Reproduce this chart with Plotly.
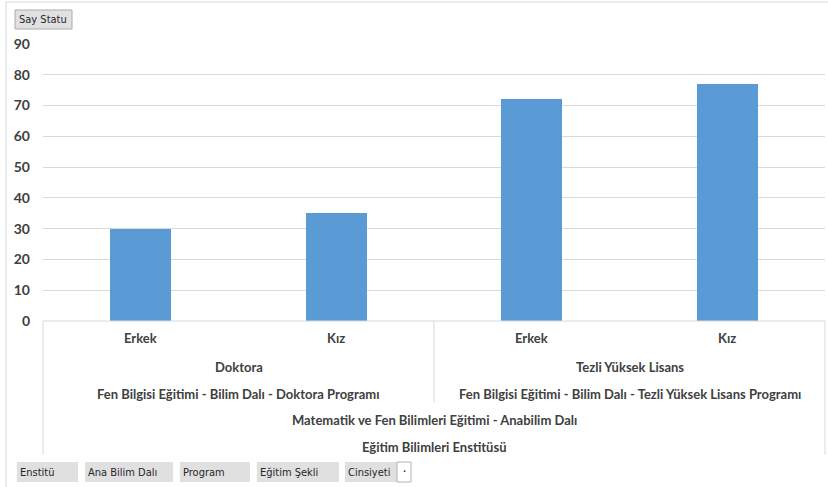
import plotly.graph_objects as go

genders = ["Erkek", "Kız", "Erkek", "Kız"]
values = [30, 35, 72, 77]
programs_short = ["Doktora", "Tezli Yüksek Lisans"]
programs_long = ["Fen Bilgisi Eğitimi - Bilim Dalı - Doktora Programı",
                 "Fen Bilgisi Eğitimi - Bilim Dalı - Tezli Yüksek Lisans Programı"]
department = "Matematik ve Fen Bilimleri Eğitimi - Anabilim Dalı"
institute = "Eğitim Bilimleri Enstitüsü"
value_button = "Say Statu"
field_buttons = ["Enstitü", "Ana Bilim Dalı", "Program", "Eğitim Şekli", "Cinsiyeti"]
y_ticks = [0, 10, 20, 30, 40, 50, 60, 70, 80, 90]

W, H = 828, 487
L, R, T, B = 43, 825, 44, 321

def px(x):
    return (x - L) / (R - L)

def py(y):
    return (B - y) / (B - T)

FONT = "Lato"
TXT = "#404040"
GRID = "#D9D9D9"

xs = list(range(len(values)))
fig = go.Figure(go.Bar(x=xs, y=values, width=0.31, marker_color="#5B9BD5",
                       marker_line_width=0, hoverinfo="y"))

shapes = []
ann = []

# outer chart border
shapes.append(dict(type="rect", xref="paper", yref="paper",
                   x0=px(6), x1=px(840), y0=py(500), y1=py(2),
                   line=dict(color="#D9D9D9", width=1), layer="below"))
# category axis box
for x0, y1 in [(L, 455), (434, 402), (R, 455)]:
    shapes.append(dict(type="line", xref="paper", yref="paper",
                       x0=px(x0), x1=px(x0), y0=py(B), y1=py(y1),
                       line=dict(color=GRID, width=1)))
shapes.append(dict(type="line", xref="paper", yref="paper",
                   x0=0, x1=1, y0=0, y1=0, line=dict(color=GRID, width=1)))

bold = dict(family=FONT, size=13, color=TXT, weight="bold")

def label(x, y, text):
    ann.append(dict(x=x, y=py(y), xref="x", yref="paper", text=text, showarrow=False,
                    font=bold, xanchor="center", yanchor="middle"))

for i, g in enumerate(genders):
    label(i, 338, g)
for j in range(2):
    label(2 * j + 0.5, 367, programs_short[j])
    label(2 * j + 0.5, 394, programs_long[j])
label(1.5, 420, department)
label(1.5, 447, institute)

btn_font = dict(family="DejaVu Sans Condensed", size=11, color="#262626")

# value field button
shapes.append(dict(type="rect", xref="paper", yref="paper",
                   x0=px(15), x1=px(72), y0=py(29), y1=py(10),
                   line=dict(color="#ABABAB", width=1), fillcolor="#E1E1E1"))
ann.append(dict(x=px(17), y=py(19.5), xref="paper", yref="paper",
                text=value_button, showarrow=False, font=btn_font,
                xanchor="left", yanchor="middle"))

bx = [(17, 78), (85, 173), (180, 250), (257, 339), (345, 397)]
for (x0, x1), lab in zip(bx, field_buttons):
    shapes.append(dict(type="rect", xref="paper", yref="paper",
                       x0=px(x0), x1=px(x1), y0=py(482), y1=py(462),
                       line=dict(width=0), fillcolor="#E0E0E0"))
    ann.append(dict(x=px(x0 + 1), y=py(472), xref="paper", yref="paper",
                    text=lab, showarrow=False, font=btn_font, xanchor="left", yanchor="middle"))
# dropdown box for last field
shapes.append(dict(type="rect", xref="paper", yref="paper",
                   x0=px(397), x1=px(411), y0=py(482), y1=py(462),
                   line=dict(color="#B4B4B4", width=1), fillcolor="white"))
ann.append(dict(x=px(404), y=py(471), xref="paper", yref="paper", text="·",
                showarrow=False, font=dict(size=12, color="#000"),
                xanchor="center", yanchor="middle"))

fig.update_layout(
    width=W, height=H,
    margin=dict(l=L, r=W - R, t=T, b=H - B, pad=0),
    paper_bgcolor="white", plot_bgcolor="white",
    showlegend=False, bargap=0,
    xaxis=dict(range=[-0.5, 3.5], showticklabels=False, showgrid=False,
               zeroline=False, showline=False, ticks="", fixedrange=True),
    yaxis=dict(range=[0, 90], tickvals=y_ticks, showgrid=True, gridcolor=GRID, gridwidth=1,
               zeroline=False, showline=False, ticks="",
               tickfont=dict(family=FONT, size=14, color=TXT, weight="bold"),
               ticklabelstandoff=12, fixedrange=True),
    shapes=shapes, annotations=ann,
)

fig.write_html("out.html", config={"displayModeBar": False},
               post_script="document.body.style.margin='0';document.body.style.overflow='hidden';")
